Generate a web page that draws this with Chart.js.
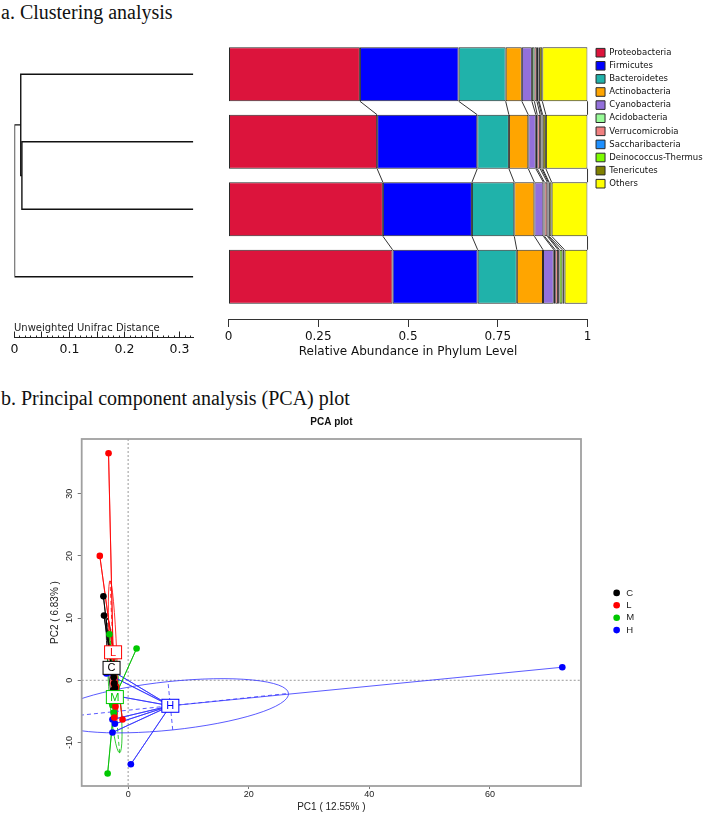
<!DOCTYPE html>
<html>
<head>
<meta charset="utf-8">
<script src="https://cdn.jsdelivr.net/npm/chart.js@4.4.1/dist/chart.umd.min.js"></script>
<style>
  html, body { margin: 0; padding: 0; background: #fff; overflow: hidden; }
  body { width: 706px; height: 813px; position: relative; }
  canvas { position: absolute; }
  .heading { position: absolute; left: 1px; font-family: "Liberation Serif", "Times New Roman", serif;
             font-size: 20px; line-height: 20px; color: #111; white-space: nowrap; }
  #distLabel { position: absolute; left: 14px; top: 322px; font: 10px/12px "DejaVu Sans", sans-serif;
               color: #222; white-space: nowrap; }
</style>
</head>
<body>
<div class="heading" style="top:1.7px">a. Clustering analysis</div>
<div class="heading" style="top:388px">b. Principal component analysis (PCA) plot</div>
<canvas id="tree" width="215" height="370" style="left:0;top:0"></canvas>
<canvas id="bars" width="540" height="370" style="left:215px;top:0"></canvas>
<div id="distLabel">Unweighted Unifrac Distance</div>
<canvas id="pca" width="706" height="403" style="left:0;top:410px"></canvas>
<script>
// ---- clustering tree (unweighted unifrac) ----
var clusterLabels = ['H', 'M', 'L', 'C'];
var clusterMerges = [[1, 2], [0, 4], [5, 3]];   // node ids: 0-3 leaves, 4.. merges
var clusterHeights = [0.0135, 0.0114, 0];       // distance from root
var treeDepth = 0.325;
var rulerMinor = 0.01;
var rulerMajor = 0.05;

// ---- phylum level relative abundance (rows H, M, L, C) ----
var sampleNames = ['H', 'M', 'L', 'C'];
var phylumNames = ['Proteobacteria', 'Firmicutes', 'Bacteroidetes', 'Actinobacteria', 'Cyanobacteria',
  'Acidobacteria', 'Verrucomicrobia', 'Saccharibacteria', 'Deinococcus-Thermus', 'Tenericutes', 'Others'];
var phylumColors = ['#DC143C', '#0000FF', '#20B2AA', '#FFA500', '#9370DB',
  '#98FB98', '#F08080', '#1E90FF', '#7CFC00', '#808000', '#FFFF00'];
var proteobacteria   = [0.366, 0.414, 0.430, 0.457];
var firmicutes       = [0.275, 0.279, 0.248, 0.237];
var bacteroidetes    = [0.131, 0.088, 0.118, 0.109];
var actinobacteria   = [0.045, 0.054, 0.056, 0.073];
var cyanobacteria    = [0.028, 0.021, 0.025, 0.030];
var acidobacteria    = [0.007, 0.004, 0.003, 0.004];
var verrucomicrobia  = [0.007, 0.008, 0.008, 0.008];
var saccharibacteria = [0.004, 0.004, 0.003, 0.004];
var deinococcus      = [0.002, 0.003, 0.002, 0.008];
var tenericutes      = [0.009, 0.009, 0.007, 0.006];
var others           = [0.126, 0.116, 0.100, 0.064];
var abundanceTicks = [0, 0.25, 0.5, 0.75, 1];

// ---- PCA scores [PC1, PC2] ----
var groupNames = ['C', 'L', 'M', 'H'];
var groupColors = ['#000000', '#FF0000', '#00C800', '#0000FF'];
var groupLineColors = ['rgba(0,0,0,0.85)', 'rgba(255,0,0,0.8)', 'rgba(0,190,0,0.8)', 'rgba(50,50,255,0.8)'];
var scoresC = [[-4.1, 13.5], [-4.0, 10.4], [-2.4, 0.5], [-2.3, -0.5], [-2.2, -1.2], [-2.5, -1.6], [-2.1, -2.3], [-2.4, -2.8]];
var scoresL = [[-3.25, 36.5], [-4.7, 20.0], [-0.93, -6.3], [-2.0, -1.0], [-2.3, -2.5], [-2.1, -4.2], [-2.4, -0.5], [-2.3, -6.0]];
var scoresM = [[1.4, 5.1], [-3.4, -15.0], [-3.1, 7.4], [-2.3, -2.5], [-2.6, -4.0], [-2.4, -5.2], [-2.7, -3.6], [-2.5, -3.8]];
var scoresH = [[-3.6, 1.1], [-2.8, 1.6], [-2.65, -2.4], [-2.6, -6.3], [-2.2, -7.0], [-2.6, -8.4], [0.45, -13.5], [72.0, 2.1]];
var groupScores = [scoresC, scoresL, scoresM, scoresH];
var ellipseMajor = [8, 11.5, 9, 19.7];
var ellipseMinor = [0.55, 0.6, 0.9, 3.9];
var ellipseAngle = [95, 92.5, 95, 5.8];
var pc1Ticks = [0, 20, 40, 60];
var pc2Ticks = [-10, 0, 10, 20, 30];

Chart.defaults.font.family = 'DejaVu Sans';
Chart.defaults.color = '#111';

// width a vertical legend takes (same sum as Chart.js uses), so the plot edge stays put
function legendWidth(texts, fontSize, family, boxWidth, pad) {
  var c = document.createElement('canvas').getContext('2d');
  c.font = fontSize + 'px ' + family;
  var w = 0;
  texts.forEach(function (t) { w = Math.max(w, c.measureText(t).width); });
  return pad + boxWidth + fontSize / 2 + w + 10;
}

// build the tree elbows
var nodes = clusterLabels.map(function (n, i) { return { x: treeDepth, y: i }; });
var treeDatasets = clusterMerges.map(function (m, k) {
  var a = nodes[m[0]], b = nodes[m[1]], h = clusterHeights[k];
  nodes.push({ x: h, y: (a.y + b.y) / 2 });
  return {
    data: [{ x: a.x, y: a.y }, { x: h, y: a.y }, { x: h, y: b.y }, { x: b.x, y: b.y }],
    showLine: true, pointRadius: 0, borderColor: '#111', borderWidth: 1.4
  };
});

new Chart(document.getElementById('tree'), {
  type: 'scatter',
  data: { datasets: treeDatasets },
  options: {
    responsive: false, animation: false, events: [],
    layout: { padding: { left: 14, top: 40.5, bottom: 59.5, right: 0 } },
    plugins: { legend: { display: false }, tooltip: { enabled: false } },
    scales: {
      y: {
        position: 'right', min: -0.5, max: 3.5, reverse: true,
        grid: { display: false }, border: { display: false },
        ticks: { stepSize: 1, includeBounds: false, autoSkip: false, padding: 9, font: { size: 12 },
          callback: function (v) { return clusterLabels[v] || ''; } },
        afterFit: function (s) { s.width = 21.7; }
      },
      x: {
        type: 'linear', position: { y: 3.893 }, min: 0, max: treeDepth,
        grid: { drawOnChartArea: false, tickLength: -2.5, color: '#222' },
        border: { display: true, color: '#222', width: 1 },
        ticks: { stepSize: rulerMinor, includeBounds: false, autoSkip: false, callback: function () { return ''; } }
      },
      x2: {
        axis: 'x', type: 'linear', position: { y: 3.893 }, min: 0, max: treeDepth,
        grid: { drawOnChartArea: false, tickLength: -5.5, color: '#222' },
        border: { display: false },
        ticks: { stepSize: rulerMajor, includeBounds: false, autoSkip: false, maxRotation: 0, padding: 10.5,
          font: { size: 12.5 },
          callback: function (v) {
            var t = v * 10;
            return Math.abs(t - Math.round(t)) < 1e-6 ? String(Math.round(t) / 10) : '';
          } }
      }
    }
  }
});

// stacked bars
var phylumValues = [proteobacteria, firmicutes, bacteroidetes, actinobacteria, cyanobacteria,
  acidobacteria, verrucomicrobia, saccharibacteria, deinococcus, tenericutes, others];
var barDatasets = phylumNames.map(function (name, i) {
  return { label: name, data: phylumValues[i], backgroundColor: phylumColors[i],
    borderColor: '#2a2a2a', borderWidth: 1, borderSkipped: false };
});

// lines joining segment boundaries of neighbouring bars
var connectorPlugin = {
  id: 'connectors',
  afterDatasetsDraw: function (chart) {
    var ctx = chart.ctx;
    ctx.save();
    ctx.strokeStyle = '#333';
    ctx.lineWidth = 1;
    chart.data.datasets.forEach(function (ds, d) {
      var bars = chart.getDatasetMeta(d).data;
      for (var i = 0; i < bars.length - 1; i++) {
        var a = bars[i], b = bars[i + 1];
        ctx.beginPath();
        ctx.moveTo(a.x, a.y + a.height / 2);
        ctx.lineTo(b.x, b.y - b.height / 2);
        ctx.stroke();
      }
    });
    ctx.restore();
  }
};

// plot area right edge sits at 372.5 inside this canvas, then a 4px gap, then the legend
var barLegendW = legendWidth(phylumNames, 8.5, 'DejaVu Sans', 9, 4.5);
var barPadRight = 540 - 372.5 - 4 - barLegendW;

new Chart(document.getElementById('bars'), {
  type: 'bar',
  data: { labels: sampleNames, datasets: barDatasets },
  options: {
    indexAxis: 'y', responsive: false, animation: false, events: [],
    layout: { padding: { left: 13.5, top: 40.5, right: barPadRight, bottom: 59.5 } },
    datasets: { bar: { categoryPercentage: 1, barPercentage: 0.8 } },
    plugins: {
      tooltip: { enabled: false },
      legend: {
        position: 'right', align: 'start',
        title: { display: true, text: '', padding: { top: 1.4, bottom: 0 }, font: { size: 2, lineHeight: 1 } },
        labels: { boxWidth: 9, boxHeight: 8.6, padding: 4.5, color: '#111', font: { size: 8.5 } }
      }
    },
    scales: {
      y: { stacked: true, display: false },
      y2: { axis: 'y', position: 'right', grid: { display: false }, border: { display: false },
        ticks: { display: false }, afterFit: function (s) { s.width = 4; } },
      x: {
        type: 'linear', stacked: true, min: 0, max: 1, position: { y: 3.64 },
        grid: { drawOnChartArea: false, tickLength: 7, color: '#333' },
        border: { display: true, color: '#333' },
        afterBuildTicks: function (s) { s.ticks = abundanceTicks.map(function (v) { return { value: v }; }); },
        ticks: { autoSkip: false, maxRotation: 0, padding: 2.8, font: { size: 12 },
          callback: function (v) { return String(v); } },
        title: { display: true, text: 'Relative Abundance in Phylum Level', font: { size: 12 }, padding: { top: 0, bottom: 0 } },
        afterFit: function (s) { s.height = 39.2; }
      }
    }
  },
  plugins: [connectorPlugin]
});

// ---- PCA ----
var centroids = groupScores.map(function (pts) {
  var sx = 0, sy = 0;
  pts.forEach(function (p) { sx += p[0]; sy += p[1]; });
  return [sx / pts.length, sy / pts.length];
});

var pointDatasets = groupNames.map(function (g, k) {
  return { label: g, data: groupScores[k].map(function (p) { return { x: p[0], y: p[1] }; }),
    backgroundColor: groupColors[k], borderColor: groupColors[k], borderWidth: 0,
    pointRadius: 3.3, pointStyle: 'circle' };
});
var starDatasets = groupNames.map(function (g, k) {
  var c = centroids[k], pts = [];
  groupScores[k].forEach(function (p) {
    pts.push({ x: c[0], y: c[1] });
    pts.push({ x: p[0], y: p[1] });
  });
  return { label: g + ' star', data: pts, showLine: true, pointRadius: 0,
    borderColor: groupLineColors[k], borderWidth: 1 };
});

var pcaPlugin = {
  id: 'pcaDecor',
  beforeDatasetsDraw: function (chart) {
    var ctx = chart.ctx, area = chart.chartArea, xs = chart.scales.x, ys = chart.scales.y;
    ctx.save();
    ctx.beginPath();
    ctx.rect(area.left, area.top, area.width, area.height);
    ctx.clip();
    // zero reference lines
    ctx.setLineDash([2, 2]);
    ctx.strokeStyle = '#999';
    ctx.lineWidth = 1;
    var x0 = xs.getPixelForValue(0), y0 = ys.getPixelForValue(0);
    ctx.beginPath();
    ctx.moveTo(x0, area.top); ctx.lineTo(x0, area.bottom);
    ctx.moveTo(area.left, y0); ctx.lineTo(area.right, y0);
    ctx.stroke();
    // ellipses and their axes
    var sx = xs.getPixelForValue(1) - xs.getPixelForValue(0);
    var sy = ys.getPixelForValue(1) - ys.getPixelForValue(0);
    groupNames.forEach(function (g, k) {
      var c = centroids[k], a = ellipseMajor[k], b = ellipseMinor[k];
      var t = ellipseAngle[k] * Math.PI / 180, ct = Math.cos(t), st = Math.sin(t);
      ctx.strokeStyle = groupLineColors[k];
      ctx.lineWidth = 1;
      ctx.setLineDash([]);
      ctx.save();
      ctx.beginPath();
      ctx.translate(xs.getPixelForValue(c[0]), ys.getPixelForValue(c[1]));
      ctx.transform(a * ct * sx, a * st * sy, -b * st * sx, b * ct * sy, 0, 0);
      ctx.arc(0, 0, 1, 0, 2 * Math.PI);
      ctx.restore();
      ctx.stroke();
      ctx.setLineDash([4, 3]);
      ctx.beginPath();
      ctx.moveTo(xs.getPixelForValue(c[0] - a * ct), ys.getPixelForValue(c[1] - a * st));
      ctx.lineTo(xs.getPixelForValue(c[0] + a * ct), ys.getPixelForValue(c[1] + a * st));
      ctx.moveTo(xs.getPixelForValue(c[0] + b * st), ys.getPixelForValue(c[1] - b * ct));
      ctx.lineTo(xs.getPixelForValue(c[0] - b * st), ys.getPixelForValue(c[1] + b * ct));
      ctx.stroke();
    });
    ctx.restore();
  },
  afterDatasetsDraw: function (chart) {
    var ctx = chart.ctx, xs = chart.scales.x, ys = chart.scales.y;
    ctx.save();
    ctx.font = '11px "Liberation Sans"';
    ctx.textAlign = 'center';
    ctx.textBaseline = 'middle';
    groupNames.forEach(function (g, k) {
      var px = xs.getPixelForValue(centroids[k][0]), py = ys.getPixelForValue(centroids[k][1]);
      ctx.fillStyle = '#fff';
      ctx.fillRect(px - 8.5, py - 6.5, 17, 13);
      ctx.strokeStyle = groupColors[k];
      ctx.lineWidth = 1;
      ctx.strokeRect(px - 8.5, py - 6.5, 17, 13);
      ctx.fillStyle = groupColors[k];
      ctx.fillText(g, px, py + 0.5);
    });
    ctx.restore();
  },
  afterDraw: function (chart) {
    var ctx = chart.ctx, area = chart.chartArea;
    ctx.save();
    ctx.strokeStyle = '#a0a0a0';
    ctx.lineWidth = 1.8;
    ctx.strokeRect(area.left, area.top, area.width, area.height);
    ctx.restore();
  }
};

var pcaFont = 'Liberation Sans';
// plot area right edge at 581, then a 28px gap before the legend
var pcaLegendW = legendWidth(groupNames, 9.5, pcaFont, 9.5, 2.9);
var pcaPadRight = 706 - 581 - 28 - pcaLegendW;

new Chart(document.getElementById('pca'), {
  type: 'scatter',
  data: { datasets: pointDatasets.concat(starDatasets) },
  options: {
    responsive: false, animation: false, events: [],
    layout: { padding: { left: 0, top: 0, right: pcaPadRight, bottom: 0 } },
    plugins: {
      tooltip: { enabled: false },
      title: { display: true, text: 'PCA plot', fullSize: false, color: '#111',
        font: { family: pcaFont, size: 10, weight: 'bold' }, padding: { top: 6, bottom: 11 } },
      legend: {
        position: 'right', align: 'center',
        labels: { usePointStyle: true, boxWidth: 9.5, boxHeight: 4.7, padding: 2.9, color: '#222',
          font: { family: pcaFont, size: 9.5 },
          filter: function (item) { return item.datasetIndex < groupNames.length; } }
      }
    },
    scales: {
      x: {
        type: 'linear', min: -7.7, max: 75.1,
        grid: { drawOnChartArea: false, tickLength: 3, color: '#777' },
        border: { display: false },
        afterBuildTicks: function (s) { s.ticks = pc1Ticks.map(function (v) { return { value: v }; }); },
        ticks: { autoSkip: false, maxRotation: 0, padding: 0, color: '#222', font: { family: pcaFont, size: 9 } },
        title: { display: true, text: 'PC1 ( 12.55% )', color: '#222', font: { family: pcaFont, size: 10 },
          padding: { top: 0, bottom: 0 } },
        afterFit: function (s) { s.height = 27; }
      },
      y: {
        type: 'linear', min: -17, max: 38.8,
        grid: { drawOnChartArea: false, tickLength: 4, color: '#777' },
        border: { display: false },
        afterBuildTicks: function (s) { s.ticks = pc2Ticks.map(function (v) { return { value: v }; }); },
        ticks: { autoSkip: false, minRotation: 90, maxRotation: 90, crossAlign: 'center', padding: 2,
          color: '#222', font: { family: pcaFont, size: 9 } },
        title: { display: true, text: 'PC2 ( 6.83% )', color: '#222', font: { family: pcaFont, size: 10 },
          padding: { top: 49, bottom: 0 } },
        afterFit: function (s) { s.width = 81.7; }
      },
      y2: { axis: 'y', position: 'right', grid: { display: false }, border: { display: false },
        ticks: { display: false }, afterFit: function (s) { s.width = 28; } }
    }
  },
  plugins: [pcaPlugin]
});
</script>
</body>
</html>
